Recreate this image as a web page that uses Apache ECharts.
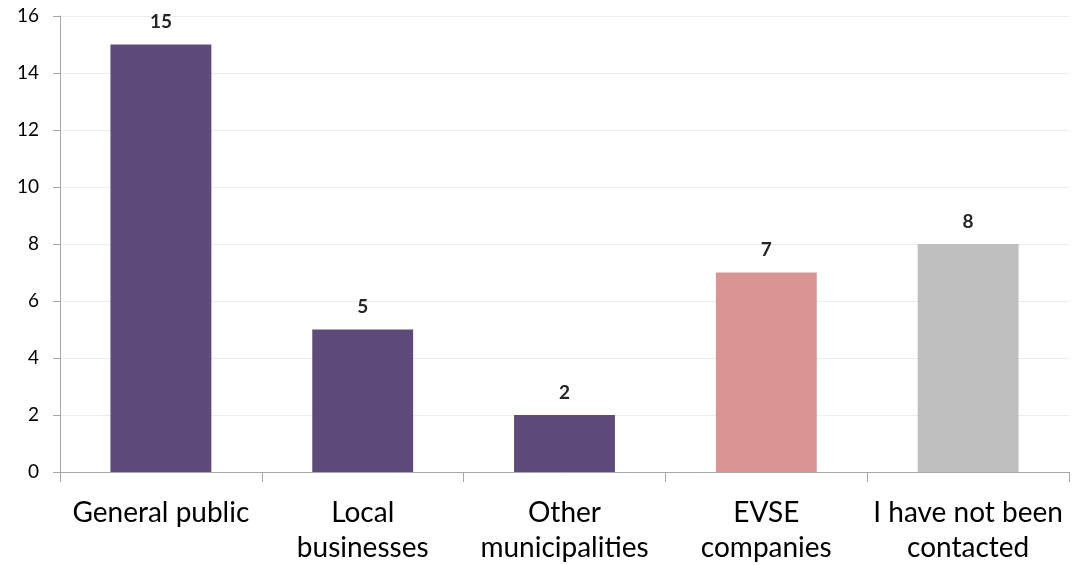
<!DOCTYPE html>
<html><head><meta charset="utf-8">
<script src="https://cdn.jsdelivr.net/npm/echarts@6/dist/echarts.min.js"></script>
<style>html,body{margin:0;padding:0;background:#fff}#c{width:1084px;height:565px}</style>
</head><body><div id="c"></div>
<script>
const categories = ["General public", "Local\nbusinesses", "Other\nmunicipalities", "EVSE\ncompanies", "I have not been\ncontacted"];
const values = [15, 5, 2, 7, 8];
const barColors = ["#5f4b7b", "#5f4b7b", "#5f4b7b", "#d99594", "#bfbfbf"];
const yTicks = { min: 0, max: 16, interval: 2 };

const chart = echarts.init(document.getElementById('c'));
chart.setOption({
  animation: false,
  grid: { left: 60, right: 15, top: 16, bottom: 92 },
  xAxis: {
    type: 'category', data: categories,
    axisLine: { lineStyle: { color: '#a6a6a6', width: 1 } },
    axisTick: { show: true, length: 10, lineStyle: { color: '#a6a6a6' } },
    axisLabel: { color: '#000', fontSize: 28, fontFamily: 'Lato, "Open Sans", sans-serif', lineHeight: 35, margin: 23, interval: 0 }
  },
  yAxis: {
    type: 'value', min: yTicks.min, max: yTicks.max, interval: yTicks.interval,
    axisLine: { show: true, lineStyle: { color: '#a6a6a6' } },
    axisTick: { show: true, length: 7, lineStyle: { color: '#a6a6a6' } },
    axisLabel: { color: '#000', fontSize: 19, fontFamily: 'Lato, "Open Sans", sans-serif', margin: 21 },
    splitLine: { lineStyle: { color: '#ececec' } }
  },
  series: [{
    type: 'bar', barWidth: '50%',
    data: values.map((v, i) => ({ value: v, itemStyle: { color: barColors[i] } })),
    label: { show: true, position: 'top', distance: 13, color: '#262626', fontSize: 19, fontWeight: 'bold', fontFamily: 'Lato, "Open Sans", sans-serif' }
  }]
});
</script></body></html>
